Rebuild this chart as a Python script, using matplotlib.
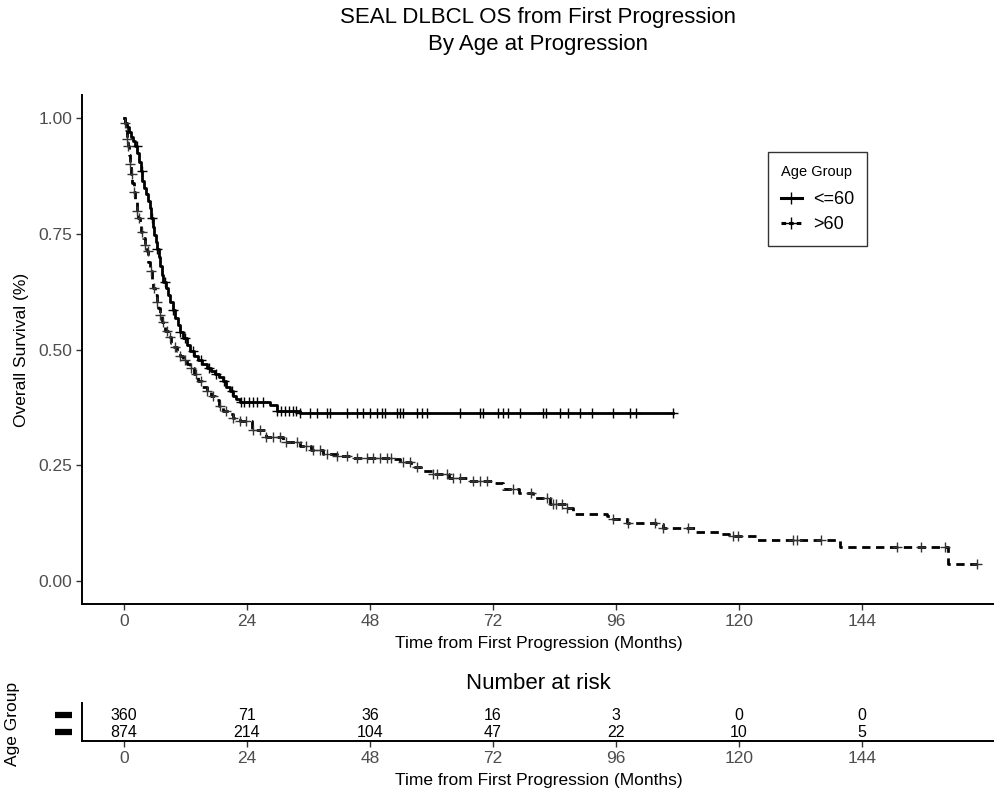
import numpy as np
import matplotlib.pyplot as plt
from matplotlib.lines import Line2D
from matplotlib.transforms import blended_transform_factory

plt.rcParams['font.family'] = ['Liberation Sans', 'DejaVu Sans']

# ---- KM curve for <=60 (step times, survival after step)
t_le60 = [0, 0.2, 0.6, 1.0, 1.4, 1.8, 2.2, 2.6, 3.0, 3.3, 3.6, 3.9, 4.2, 4.6, 5.0, 5.3,
          5.6, 5.9, 6.2, 6.5, 6.8, 7.1, 7.4, 7.7, 8.1, 8.5, 9.0, 9.5, 10.0, 10.5, 11.0,
          11.6, 12.2, 12.9, 13.7, 14.5, 15.3, 16.1, 16.9, 17.7, 18.5, 19.4, 20.0, 20.6,
          21.2, 21.8, 22.6, 28.5, 29.8, 34.3, 107.2]
s_le60 = [1.0, 0.99, 0.98, 0.97, 0.96, 0.95, 0.94, 0.925, 0.905, 0.885, 0.865, 0.85, 0.835,
          0.82, 0.805, 0.785, 0.765, 0.748, 0.733, 0.718, 0.7, 0.68, 0.662, 0.646, 0.632,
          0.618, 0.602, 0.585, 0.568, 0.552, 0.538, 0.524, 0.51, 0.497, 0.487, 0.478, 0.469,
          0.461, 0.454, 0.447, 0.44, 0.432, 0.42, 0.41, 0.4, 0.393, 0.386, 0.38, 0.367,
          0.362, 0.362]
c_le60 = [2.5, 3.5, 5.5, 6.5, 8.0, 9.5, 11.0, 12.0, 13.5, 15.0, 16.5, 18.0, 19.5, 21.0,
          22.8, 23.5, 24.4, 25.2, 26.0, 27.1, 29.9, 30.6, 31.4, 32.2, 33.0, 33.6,
          34.3, 36.3, 37.6, 39.6, 40.2, 43.5, 45.4, 46.7, 48.0, 49.3, 50.3, 50.9, 53.2,
          53.9, 54.5, 57.1, 58.1, 59.1, 65.6, 69.5, 70.1, 73.0, 74.0, 75.0, 77.3, 81.8,
          82.4, 85.1, 86.7, 89.0, 91.3, 95.5, 98.7, 100.0, 107.2]

# ---- KM curve for >60
t_gt60 = [0, 0.1, 0.3, 0.5, 0.7, 0.9, 1.1, 1.3, 1.6, 1.9, 2.2, 2.5, 2.8, 3.1, 3.4, 3.7,
          4.0, 4.4, 4.7, 5.0, 5.4, 5.7, 6.0, 6.4, 6.7, 7.0, 7.4, 7.7, 8.0, 8.6, 9.2, 9.8,
          10.3, 11.0, 11.6, 12.3, 12.9, 13.7, 14.5, 15.3, 16.1, 16.9, 17.7, 18.5, 19.4,
          20.4, 21.3, 22.6, 25.0, 27.8, 31.0, 34.3, 36.5, 38.9, 41.5, 44.1, 48.0, 52.5,
          53.9, 56.0, 58.0, 60.3, 63.5, 66.9, 72.1, 74.0, 77.0, 79.9, 83.1, 86.4, 87.7,
          94.2, 95.5, 98.1, 103.9, 105.2, 110.4, 111.7, 116.3, 118.0, 123.4, 137.8, 139.7,
          160.5, 160.8, 166.4]
s_gt60 = [1.0, 0.99, 0.975, 0.955, 0.94, 0.92, 0.9, 0.88, 0.86, 0.84, 0.82, 0.8, 0.785,
          0.77, 0.755, 0.74, 0.726, 0.712, 0.69, 0.67, 0.648, 0.632, 0.617, 0.602, 0.59,
          0.575, 0.56, 0.55, 0.54, 0.527, 0.515, 0.505, 0.497, 0.487, 0.477, 0.468, 0.46,
          0.447, 0.433, 0.42, 0.41, 0.4, 0.39, 0.378, 0.367, 0.36, 0.353, 0.345, 0.325,
          0.31, 0.3, 0.292, 0.283, 0.274, 0.27, 0.266, 0.265, 0.263, 0.256, 0.245, 0.238,
          0.23, 0.222, 0.216, 0.212, 0.198, 0.19, 0.18, 0.166, 0.158, 0.144, 0.14, 0.133,
          0.126, 0.122, 0.115, 0.115, 0.106, 0.101, 0.097, 0.088, 0.088, 0.073, 0.073,
          0.036, 0.036]
c_gt60 = [0.2, 0.5, 0.8, 1.2, 1.5, 2.0, 2.5, 3.0, 3.5, 4.0, 4.6, 5.2, 5.8, 6.4, 7.0, 7.6,
          8.3, 9.0, 10.0, 11.0, 12.0, 13.0, 14.0, 15.0, 16.1, 17.4, 18.7, 20.0, 21.3, 22.6,
          23.9, 25.2, 26.5, 27.8, 29.1, 30.4, 31.7, 33.7, 35.6, 36.9, 38.2, 39.6, 41.5,
          43.5, 45.4, 47.4, 48.6, 49.9, 51.3, 52.2, 54.5, 55.8, 57.1, 60.4, 61.0, 63.0,
          64.3, 65.6, 68.2, 69.5, 70.8, 76.0, 79.5, 82.5, 83.8, 84.4, 85.4, 86.4, 95.5,
          98.4, 103.6, 105.2, 110.1, 118.9, 119.9, 130.6, 131.3, 136.1, 150.8, 155.6,
          160.2, 166.4]

groups = ['<=60', '>60']
risk_times = [0, 24, 48, 72, 96, 120, 144]
risk_le60 = [360, 71, 36, 16, 3, 0, 0]
risk_gt60 = [874, 214, 104, 47, 22, 10, 5]


def step_value(times, surv, tc):
    idx = np.searchsorted(times, tc, side='right') - 1
    return np.asarray(surv)[idx]


W, H = 995, 797
fig = plt.figure(figsize=(W / 100, H / 100), dpi=100)
ax = fig.add_axes([82 / W, (H - 604) / H, (W - 82) / W, (604 - 95) / H])
axr = fig.add_axes([82 / W, (H - 741) / H, (W - 82) / W, 38 / H])

xlim = (-8.2, 170)
gray = '#4D4D4D'
lw = 2.0
dash = (0, (3, 2))

ax.plot(t_le60, s_le60, drawstyle='steps-post', color='black', lw=lw)
ax.plot(t_gt60, s_gt60, drawstyle='steps-post', color='black', lw=lw, linestyle=dash)
ax.plot(c_le60, step_value(t_le60, s_le60, c_le60), '+', color='black', ms=7, mew=1.0)
ax.plot(c_gt60, step_value(t_gt60, s_gt60, c_gt60), '+', color='#333333', ms=7, mew=1.0)

ax.set_xlim(*xlim)
ax.set_ylim(-0.05, 1.05)
ax.set_xticks(risk_times)
ax.set_yticks([0, 0.25, 0.5, 0.75, 1.0])
ax.set_yticklabels(['0.00', '0.25', '0.50', '0.75', '1.00'])
for a in (ax, axr):
    for s in ('top', 'right'):
        a.spines[s].set_visible(False)
    for s in ('left', 'bottom'):
        a.spines[s].set_linewidth(1.4)
    a.tick_params(length=4, width=1, color='#333333', labelcolor=gray, labelsize=12.5, pad=3)
ax.set_xlabel('Time from First Progression (Months)', fontsize=12.5, labelpad=5)
ax.set_ylabel('Overall Survival (%)', fontsize=12.5, labelpad=7)

fig.text((82 + W) / 2 / W, 1 - 7 / H, 'SEAL DLBCL OS from First Progression\nBy Age at Progression',
         ha='center', va='top', fontsize=16, linespacing=1.35)

handles = [Line2D([], [], color='black', lw=2.2, marker='+', ms=8, mew=1.0),
           Line2D([], [], color='black', lw=2.2, ls=(0, (1.5, 1)), marker='+', ms=8, mew=1.0)]
leg = ax.legend(handles, groups, title='Age Group', loc='upper left',
                bbox_to_anchor=((768 - 82) / (W - 82), (604 - 152) / (604 - 95)),
                borderaxespad=0, fontsize=13, title_fontsize=10.5, frameon=True,
                fancybox=False, edgecolor='black', handlelength=1.2, handletextpad=0.6,
                borderpad=0.7, labelspacing=0.45)
leg.get_frame().set_linewidth(1.0)
leg._legend_box.align = 'left'
leg._legend_box.sep = 9

# risk table
for row, yv in [(risk_le60, 2), (risk_gt60, 1)]:
    for t, n in zip(risk_times, row):
        axr.text(t, yv, str(n), ha='center', va='center', fontsize=11.5, color='black')
axr.set_xlim(*xlim)
axr.set_ylim(0.5, 2.7)
axr.set_xticks(risk_times)
axr.set_yticks([])
# strata keys next to the risk table rows
key_tr = blended_transform_factory(axr.transAxes, axr.transData)
for yv in (2, 1):
    axr.add_line(Line2D([-27 / (W - 82), -10 / (W - 82)], [yv, yv], transform=key_tr,
                        color='black', lw=4.5, solid_capstyle='butt', clip_on=False))
axr.set_xlabel('Time from First Progression (Months)', fontsize=12.5, labelpad=5)
axr.set_ylabel('Age Group', fontsize=12.5)
axr.yaxis.set_label_coords(-62 / (W - 82), 0.45)
axr.set_title('Number at risk', fontsize=16, pad=10)
axr.patch.set_alpha(0)

fig.savefig('out.png', dpi=100)
